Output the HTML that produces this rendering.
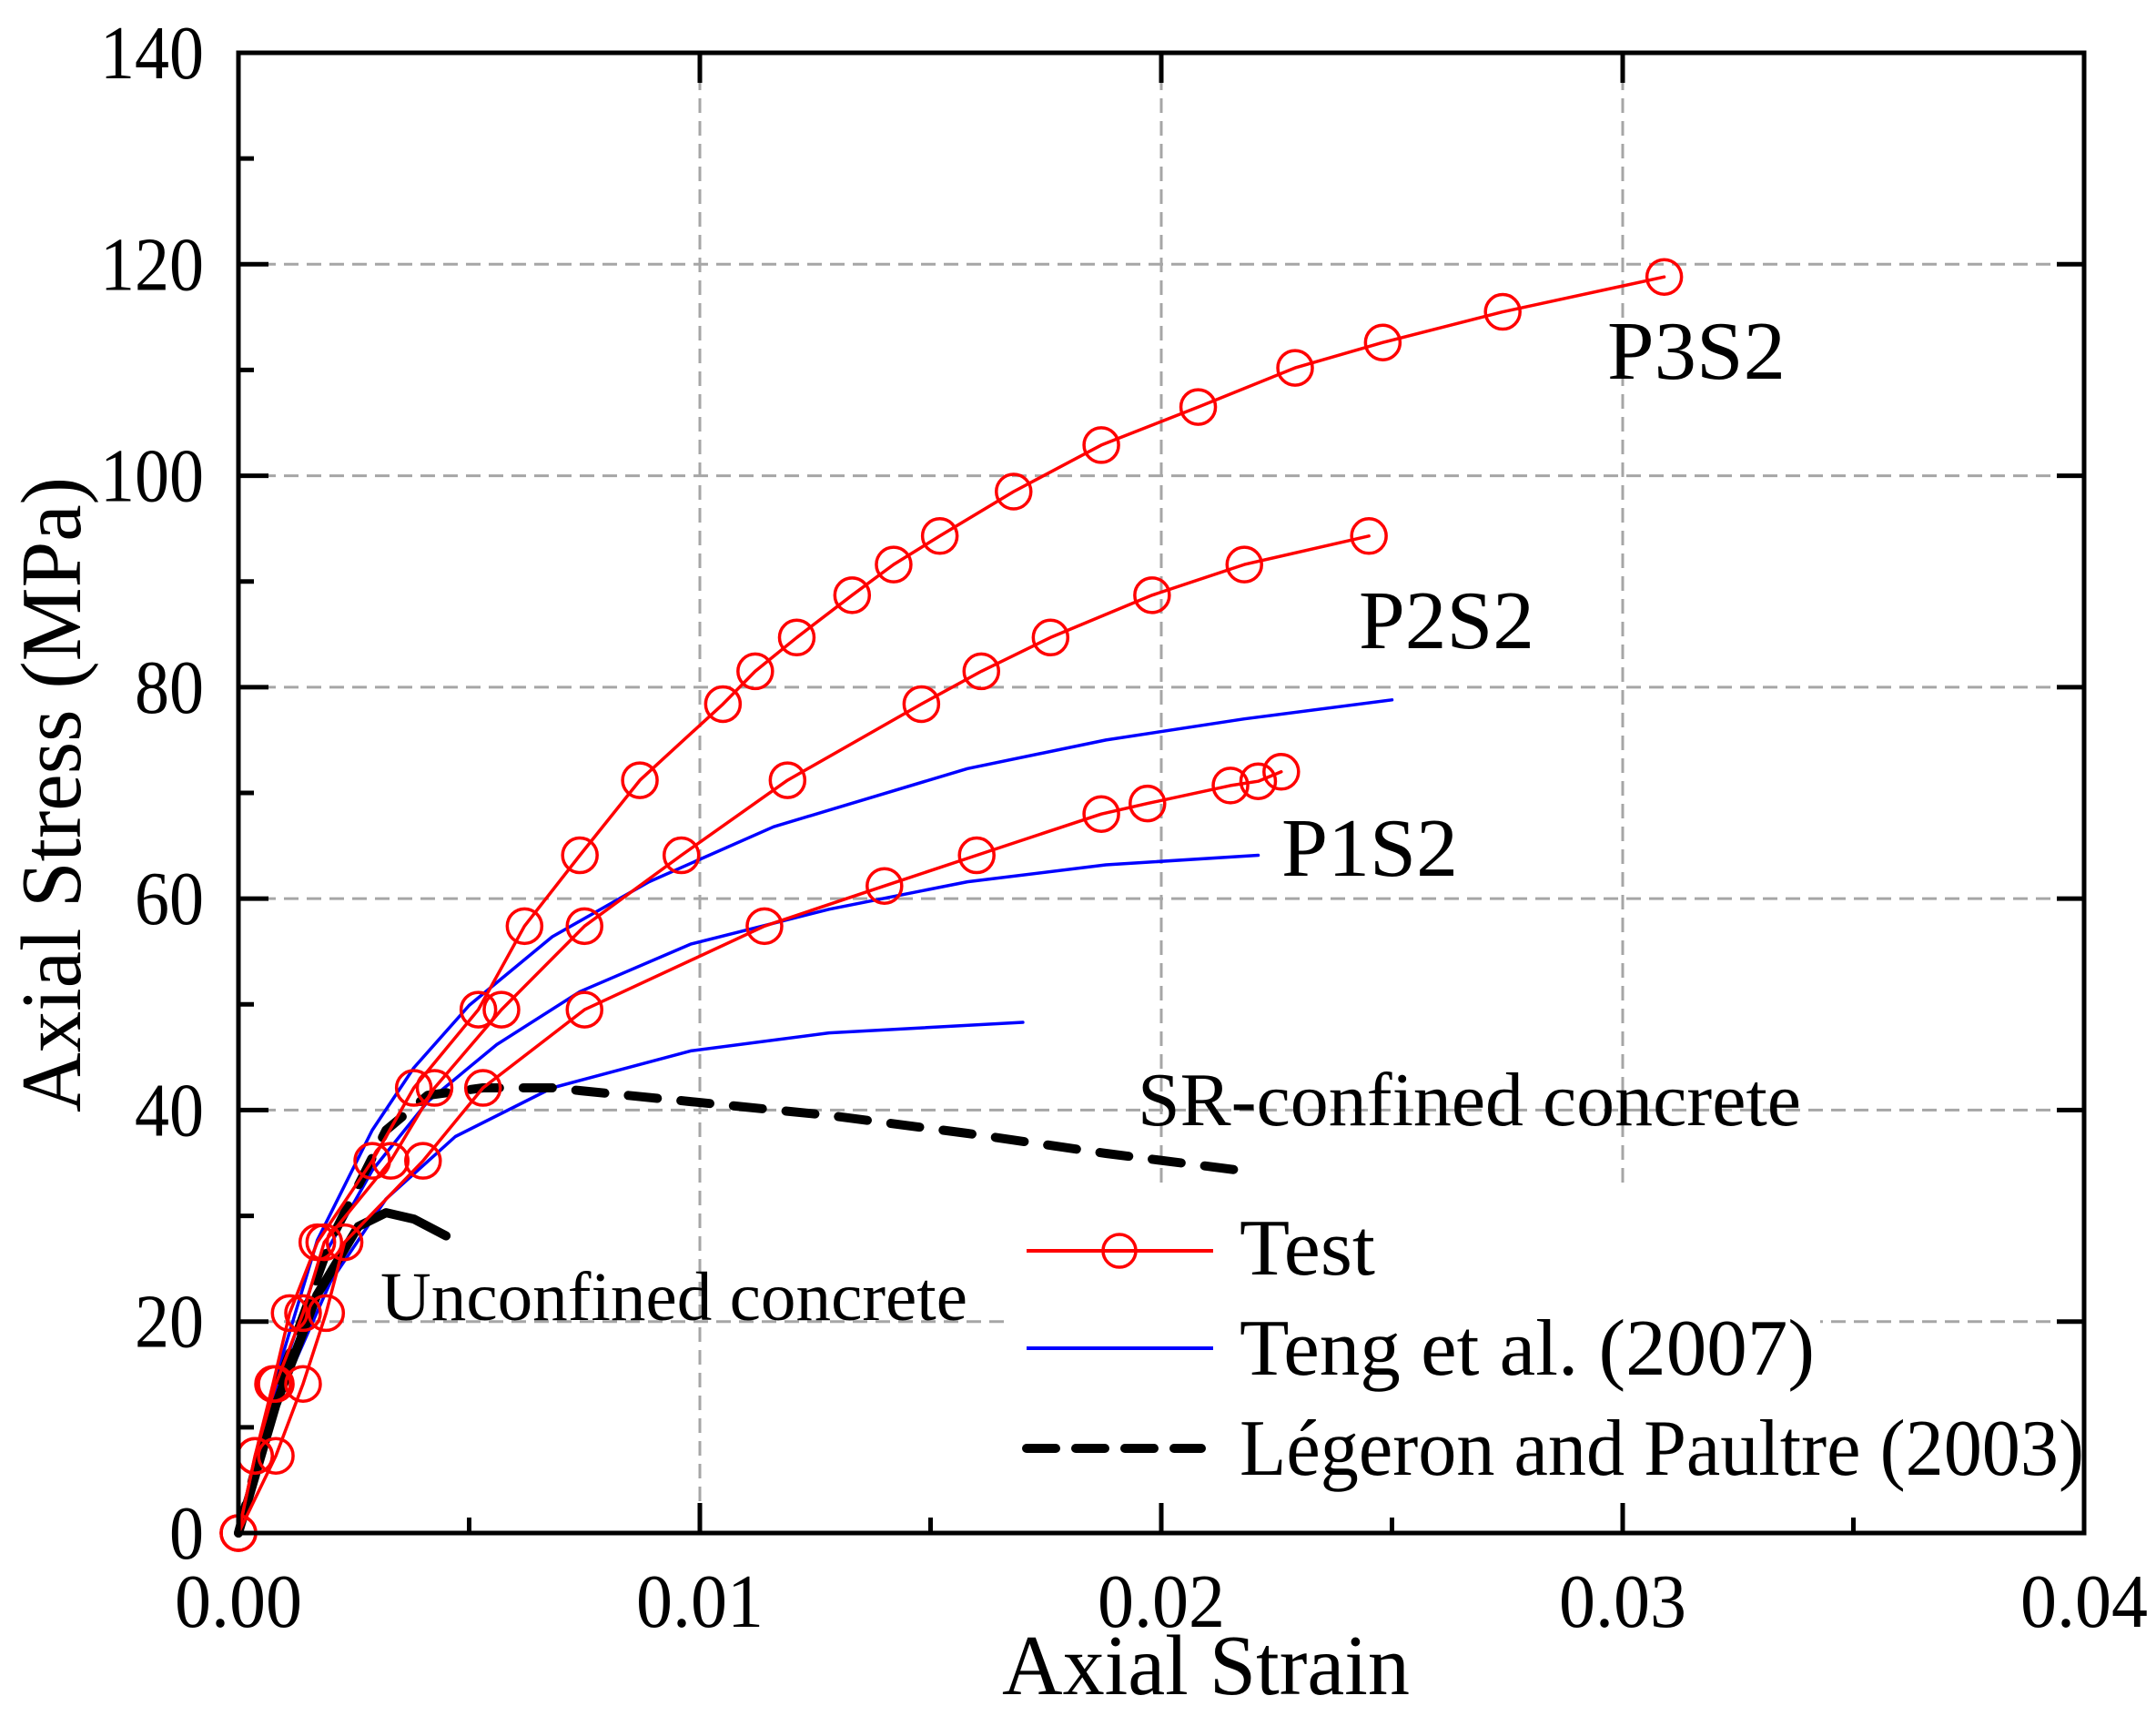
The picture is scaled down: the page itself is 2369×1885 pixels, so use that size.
<!DOCTYPE html>
<html><head><meta charset="utf-8"><style>
html,body{margin:0;padding:0;background:#fff;}
svg text{font-family:"Liberation Serif","Times New Roman",serif;fill:#000;}
</style></head><body>
<svg id="chart" width="2369" height="1880" viewBox="0 0 2369 1880" xmlns="http://www.w3.org/2000/svg" font-family="Liberation Serif, serif">
<g id="grid"></g>
<g id="series"></g>
<rect x="1110" y="1300" width="890" height="350" fill="#fff"/>
<g id="axes"></g>
<g>
  <line x1="1128" y1="1374" x2="1333" y2="1374" stroke="#f00" stroke-width="4"/>
  <circle cx="1230" cy="1374" r="18" fill="none" stroke="#f00" stroke-width="3.5"/>
  <text x="1362" y="1400" font-size="88" textLength="149" lengthAdjust="spacingAndGlyphs">Test</text>
  <line x1="1128" y1="1481" x2="1333" y2="1481" stroke="#00f" stroke-width="4"/>
  <text x="1362" y="1510" font-size="88" textLength="632" lengthAdjust="spacingAndGlyphs">Teng et al. (2007)</text>
  <line x1="1128" y1="1591" x2="1320" y2="1591" stroke="#000" stroke-width="10" stroke-dasharray="32,22" stroke-linecap="round"/>
  <text x="1362" y="1620" font-size="88" textLength="928" lengthAdjust="spacingAndGlyphs">Légeron and Paultre (2003)</text>
</g>
<text x="1766" y="416" font-size="91" textLength="196" lengthAdjust="spacingAndGlyphs">P3S2</text>
<text x="1493" y="712" font-size="91" textLength="193" lengthAdjust="spacingAndGlyphs">P2S2</text>
<text x="1408" y="962" font-size="91" textLength="194" lengthAdjust="spacingAndGlyphs">P1S2</text>
<text x="1250" y="1236" font-size="84" textLength="729" lengthAdjust="spacingAndGlyphs">SR-confined concrete</text>
<text x="418" y="1450" font-size="76" textLength="645" lengthAdjust="spacingAndGlyphs">Unconfined concrete</text>
<text x="1101" y="1861" font-size="94" textLength="448" lengthAdjust="spacingAndGlyphs">Axial Strain</text>
<text transform="translate(88,1222) rotate(-90)" font-size="94" textLength="698" lengthAdjust="spacingAndGlyphs">Axial Stress (MPa)</text>
</svg>
<script>
const xTicks=[0,0.01,0.02,0.03,0.04];
const xTickLabels=["0.00","0.01","0.02","0.03","0.04"];
const yTicks=[0,20,40,60,80,100,120,140];
const yTickLabels=["0","20","40","60","80","100","120","140"];
const p3s2Strain=[0,0.00036,0.00075,0.00111,0.00171,0.0029,0.0038,0.0052,0.0062,0.0074,0.0087,0.0105,0.0112,0.0121,0.0133,0.0142,0.0152,0.0168,0.0187,0.0208,0.0229,0.0248,0.0274,0.0309];
const p3s2Stress=[0,7.3,14.1,20.8,27.5,35.2,42.1,49.5,57.4,64.1,71.2,78.4,81.5,84.7,88.7,91.6,94.3,98.5,102.9,106.5,110.2,112.6,115.5,118.8];
const p2s2Strain=[0,0.00036,0.00081,0.0014,0.00186,0.0033,0.00425,0.0057,0.0075,0.0096,0.0119,0.0148,0.0161,0.0176,0.0198,0.0218,0.0245];
const p2s2Stress=[0,7.3,14.1,20.8,27.5,35.2,42.1,49.5,57.4,64.1,71.2,78.4,81.5,84.7,88.7,91.6,94.3];
const p1s2Strain=[0,0.00081,0.0014,0.0019,0.0023,0.0040,0.0053,0.0075,0.0114,0.0140,0.0160,0.0187,0.0197,0.0215,0.0221,0.0226];
const p1s2Stress=[0,7.3,14.1,20.8,27.5,35.2,42.1,49.5,57.4,61.2,64.1,68.0,69.0,70.7,71.1,72.0];
const teng1Strain=[0,0.00081,0.00171,0.0029,0.0038,0.0050,0.0068,0.0089,0.0116,0.0158,0.0188,0.0218,0.0250];
const teng1Stress=[0,14.7,27.7,38.1,44.0,49.9,56.4,61.6,66.8,72.3,75.0,77.0,78.8];
const teng2Strain=[0,0.00081,0.00171,0.0029,0.0041,0.0056,0.0074,0.0098,0.0128,0.0158,0.0188,0.0221];
const teng2Stress=[0,13.4,25.1,34.3,40.8,46.2,51.2,55.7,59.0,61.6,63.2,64.1];
const teng3Strain=[0,0.00081,0.0020,0.0032,0.0047,0.0068,0.0098,0.0128,0.0170];
const teng3Stress=[0,12.1,23.8,31.6,37.5,42.1,45.6,47.3,48.3];
const legStrain=[0,0.00081,0.0020,0.0032,0.0041,0.0053,0.0068,0.0098,0.0128,0.0158,0.0188,0.0217];
const legStress=[0,13.4,27.7,38.1,41.4,42.1,42.1,40.8,39.5,37.8,35.9,34.3];
const uncStrain=[0,0.00081,0.0017,0.0026,0.0032,0.0038,0.0045];
const uncStress=[0,12.1,22.5,29.0,30.3,29.7,28.1];

const X0=262,X1=2290,Y0=1684,Y1=58;
function sx(v){return X0+(v/0.04)*(X1-X0);}
function sy(v){return Y0-(v/140)*(Y0-Y1);}
const NS="http://www.w3.org/2000/svg";
function mk(tag,attrs,parent){const e=document.createElementNS(NS,tag);for(const k in attrs)e.setAttribute(k,attrs[k]);parent.appendChild(e);return e;}
const grid=document.getElementById('grid'),axes=document.getElementById('axes'),ser=document.getElementById('series');
yTicks.forEach(function(v){ if(v>0&&v<140){const l=mk('line',{x1:X0,x2:X1,y1:sy(v),y2:sy(v),stroke:'#a6a6a6','stroke-width':3,'stroke-dasharray':'16,9'},grid);

}});
xTicks.forEach(function(v){ if(v>0&&v<0.04){const l=mk('line',{x1:sx(v),x2:sx(v),y1:Y1,y2:Y0,stroke:'#a6a6a6','stroke-width':3,'stroke-dasharray':'16,9'},grid);

}});
function line(xs,ys,color,w,dash,name){let d='';xs.forEach(function(x,i){d+=(i?'L':'M')+sx(x).toFixed(1)+' '+sy(ys[i]).toFixed(1);});
const p=mk('path',{d:d,fill:'none',stroke:color,'stroke-width':w,'stroke-linejoin':'round','stroke-linecap':'round'},ser);
if(dash)p.setAttribute('stroke-dasharray',dash);

}
function markers(xs,ys,name){xs.forEach(function(x,i){const c=mk('circle',{cx:sx(x),cy:sy(ys[i]),r:19,fill:'none',stroke:'#f00','stroke-width':3.5},ser);

});}
line(teng1Strain,teng1Stress,'#00f',3.5,null,'teng-curve-1');
line(teng2Strain,teng2Stress,'#00f',3.5,null,'teng-curve-2');
line(teng3Strain,teng3Stress,'#00f',3.5,null,'teng-curve-3');
line(legStrain,legStress,'#000',10,'32,26','legeron-curve');
line(uncStrain,uncStress,'#000',10,null,'unconfined-curve');
line(p3s2Strain,p3s2Stress,'#f00',3.5,null,'p3s2-test-line');
line(p2s2Strain,p2s2Stress,'#f00',3.5,null,'p2s2-test-line');
line(p1s2Strain,p1s2Stress,'#f00',3.5,null,'p1s2-test-line');
markers(p3s2Strain,p3s2Stress,'p3s2');
markers(p2s2Strain,p2s2Stress,'p2s2');
markers(p1s2Strain,p1s2Stress,'p1s2');
const fr=mk('rect',{x:X0,y:Y1,width:X1-X0,height:Y0-Y1,fill:'none',stroke:'#000','stroke-width':5},axes);


for(let i=0;i<=14;i++){const v=i*10;const major=(i%2===0);const len=major?33:17;
 const t=mk('line',{x1:X0,x2:X0+len,y1:sy(v),y2:sy(v),stroke:'#000','stroke-width':5},axes);
 
 
 if(major){const t2=mk('line',{x1:X1,x2:X1-30,y1:sy(v),y2:sy(v),stroke:'#000','stroke-width':5},axes);
 
 }}
for(let i=0;i<=8;i++){const v=i*0.005;const major=(i%2===0);const len=major?33:17;
 const t=mk('line',{x1:sx(v),x2:sx(v),y1:Y0,y2:Y0-len,stroke:'#000','stroke-width':5},axes);
 
 
 if(major){const t2=mk('line',{x1:sx(v),x2:sx(v),y1:Y1,y2:Y1+33,stroke:'#000','stroke-width':5},axes);
 
 }}
yTicks.forEach(function(v,i){const s=yTickLabels[i];const w=38*s.length;const t=mk('text',{x:224-w,y:sy(v)+28,'font-size':84,textLength:w,lengthAdjust:'spacingAndGlyphs'},axes);t.textContent=s;

});
xTicks.forEach(function(v,i){const t=mk('text',{x:sx(v)-70,y:1787,'font-size':84,textLength:140,lengthAdjust:'spacingAndGlyphs'},axes);t.textContent=xTickLabels[i];

});
</script>
</body></html>
